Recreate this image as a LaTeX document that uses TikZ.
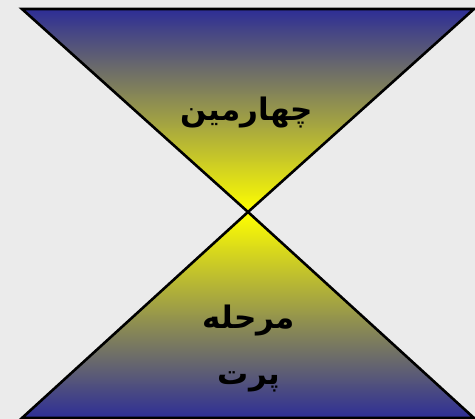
\documentclass[tikz,border=0pt]{standalone}
\usepackage{fontspec}
\TeXXeTstate=1
\newfontfamily\arabicfont[Script=Arabic]{DejaVu Sans}
\definecolor{bgc}{RGB}{235,235,235}
\definecolor{dblue}{RGB}{46,46,150}
\definecolor{yel}{RGB}{255,255,0}
\tikzset{
  tri/.style={draw=black, line width=2.6pt, line join=miter},
  lbl/.style={font=\arabicfont\bfseries\fontsize{31}{36}\selectfont, inner sep=0pt, align=center}
}
\begin{document}
\begin{tikzpicture}[x=1pt,y=-1pt]
\useasboundingbox[fill=bgc] (0,0) rectangle (475,419);
\coordinate (tl) at (22,9);
\coordinate (tr) at (474,9);
\coordinate (apex) at (248,212);
\coordinate (bl) at (22,418);
\coordinate (br) at (474,418);
\shade[top color=dblue, bottom color=yel] (tl) -- (tr) -- (apex) -- cycle;
\shade[top color=yel, bottom color=dblue] (apex) -- (br) -- (bl) -- cycle;
\draw[tri] (tl) -- (tr) -- (apex) -- cycle;
\draw[tri] (apex) -- (br) -- (bl) -- cycle;
\node[lbl] (t1) at (247,113) {\beginR چهارمین\endR};
\node[lbl] (t2) at (249,321) {\beginR مرحله\endR};
\node[lbl] (t3) at (249,382) {\beginR پرت\endR};
\end{tikzpicture}
\end{document}
